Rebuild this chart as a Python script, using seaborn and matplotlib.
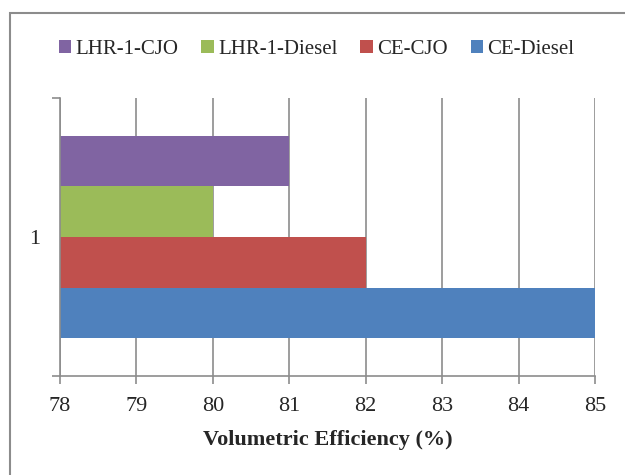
import matplotlib
matplotlib.use('Agg')
import matplotlib.pyplot as plt
import seaborn as sns
import pandas as pd
from matplotlib.patches import Rectangle

series = ['LHR-1-CJO', 'LHR-1-Diesel', 'CE-CJO', 'CE-Diesel']
values = [81, 80, 82, 85]
category = ['1', '1', '1', '1']
colors = ['#8064A2', '#9BBB59', '#C0504D', '#4F81BD']

df = pd.DataFrame({'cat': category, 'series': series, 'value': values})

sns.set_theme(style='white')
plt.rcParams['font.family'] = ['Liberation Serif', 'DejaVu Serif']

fig = plt.figure(figsize=(6.25, 4.75), dpi=100)
ax = fig.add_axes([60 / 625, 1 - 376 / 475, 535 / 625, 278 / 475])

sns.barplot(data=df, y='cat', x='value', hue='series', hue_order=series,
            palette=colors, orient='h', width=0.73, ax=ax, saturation=1,
            linewidth=0, legend=True)

ax.set_xlim(78, 85)
ax.set_ylim(0.5, -0.5)
ax.set_xticks(range(78, 86))
ax.xaxis.grid(True, color='#8c8c8c', linewidth=1.2)
ax.set_axisbelow(True)
ax.tick_params(axis='x', length=6, width=1.2, color='#8c8c8c',
               labelsize=16, pad=9, direction='out', bottom=True)
ax.set_yticks([0])
ax.set_yticklabels(['1'])
ax.set_yticks([-0.5, 0.5], minor=True)
ax.tick_params(axis='y', which='major', length=0, labelsize=16, pad=14)
ax.tick_params(axis='y', which='minor', length=6, width=1.2,
               color='#8c8c8c', left=True)
for side in ['top', 'right']:
    ax.spines[side].set_visible(False)
for side in ['left', 'bottom']:
    ax.spines[side].set_color('#8c8c8c')
    ax.spines[side].set_linewidth(1.2)

ax.set_ylabel('')
ax.set_xlabel('Volumetric Efficiency (%)', fontsize=16, fontweight='bold',
              labelpad=10)

handles, labels = ax.get_legend_handles_labels()
ax.legend(handles, labels, ncol=4, frameon=False, fontsize=15,
          loc='center', bbox_to_anchor=(0.5 + 4 / 625, 1 - 49 / 475),
          bbox_transform=fig.transFigure, handlelength=0.6,
          handleheight=0.6, handletextpad=0.2, columnspacing=1.1)

fig.patches.append(Rectangle((10 / 625, -0.1), 1.2, 1 - 13 / 475 + 0.1,
                             transform=fig.transFigure, fill=False,
                             edgecolor='#8c8c8c', linewidth=1.5))

fig.savefig('out.png', dpi=100)
